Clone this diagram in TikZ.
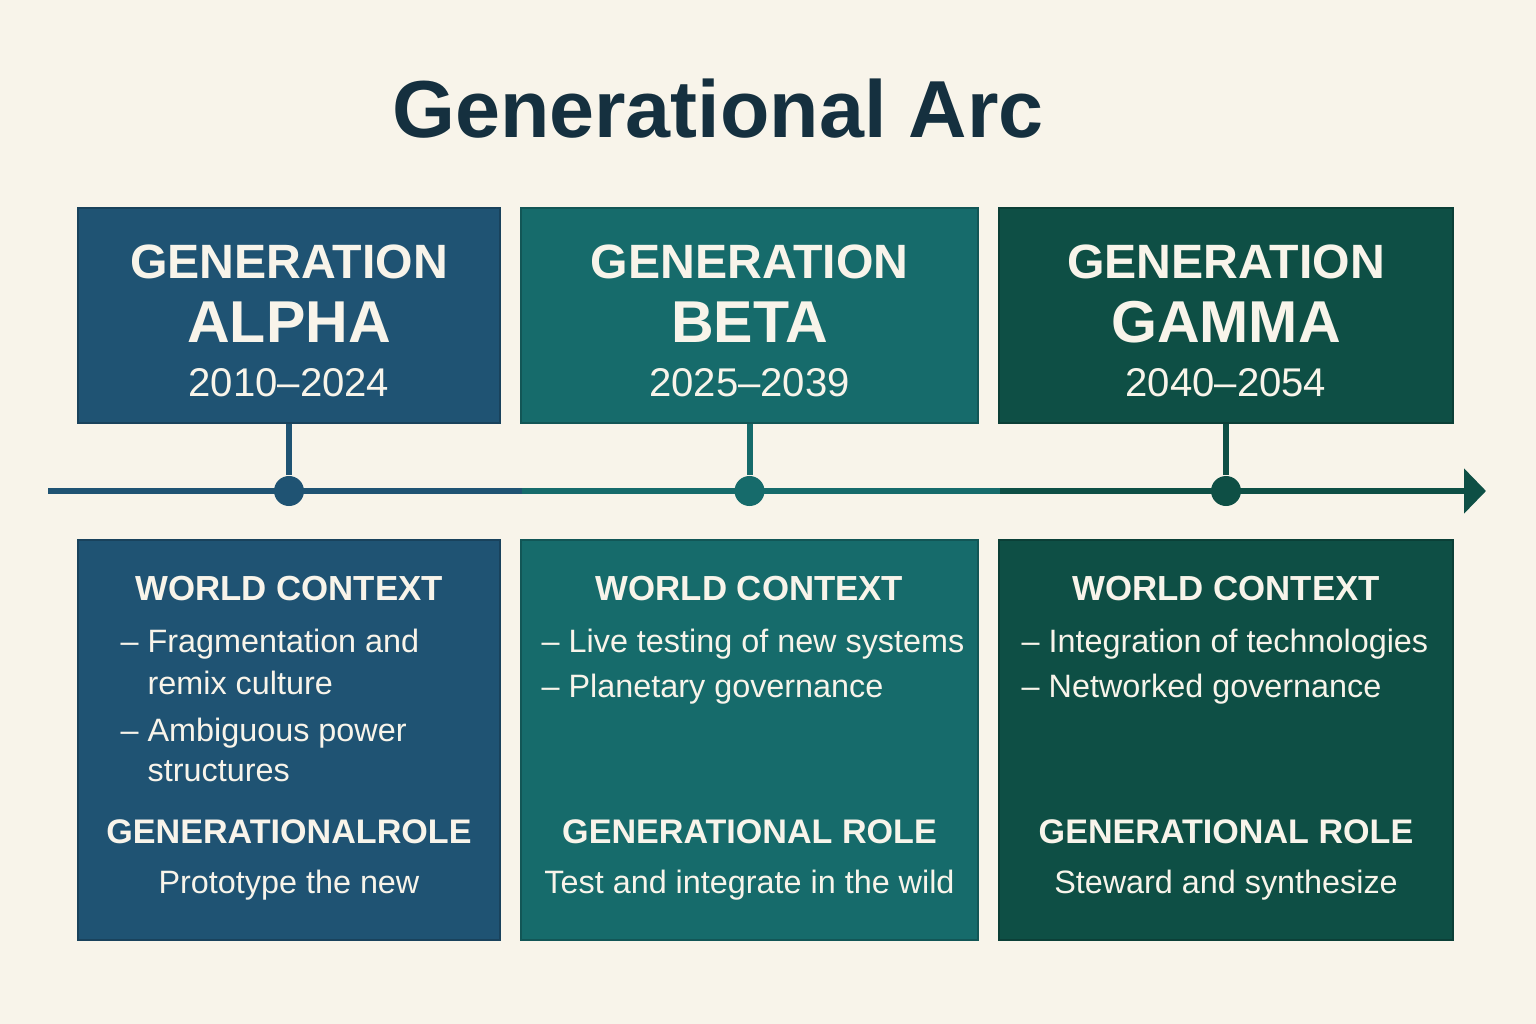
\documentclass[tikz,border=0pt]{standalone}
\usepackage{fontspec}
\setmainfont{Liberation Sans}
\usetikzlibrary{arrows.meta,positioning}
\definecolor{Paper}{HTML}{F8F4EA}
\definecolor{Ink}{HTML}{15303F}
\definecolor{Cream}{HTML}{F8F4EA}
\definecolor{AlphaBlue}{HTML}{1F5373}
\definecolor{BetaTeal}{HTML}{166B6B}
\definecolor{GammaGreen}{HTML}{0E4F45}
\tikzset{
  genbox/.style={draw=#1!80!black,line width=0.4pt,fill=#1,inner sep=0pt},
  gentag/.style={text=Cream,font=\fontsize{13.7}{16}\selectfont\bfseries,anchor=base},
  genname/.style={text=Cream,font=\fontsize{16.8}{20}\selectfont\bfseries,anchor=base},
  genyears/.style={text=Cream,font=\fontsize{11.4}{14}\selectfont,anchor=base},
  head/.style={text=Cream,font=\fontsize{9.9}{12}\selectfont\bfseries,anchor=base},
  rolehead/.style={head,font=\fontsize{9.7}{12}\selectfont\bfseries},
  body/.style={text=Cream,font=\fontsize{9.2}{12}\selectfont,anchor=base,inner sep=0pt},
  item/.style={body,anchor=base west},
  tline/.style={line width=0.06cm,draw=#1},
  milestone/.style={circle,fill=#1,inner sep=0pt,minimum size=0.3cm},
  title/.style={text=Ink,font=\fontsize{23}{28}\selectfont\bfseries,anchor=base}
}
\begin{document}
\begin{tikzpicture}[x=0.01cm,y=-0.01cm]
  \fill[Paper] (0,0) rectangle (1536,1024);
  \useasboundingbox (0,0) rectangle (1536,1024);
  \node[title] (ttl) at (718,137) {Generational Arc};
  % timeline
  \coordinate (t0) at (48,491);
  \coordinate (t1) at (522,491);
  \coordinate (t2) at (1000,491);
  \coordinate (t3) at (1486,491);
  \draw[tline=AlphaBlue] (t0) -- (t1);
  \draw[tline=BetaTeal] (t1) -- (t2);
  \draw[tline=GammaGreen,-{Triangle[length=0.22cm,width=0.44cm]}] (t2) -- (t3);
  % columns
  \foreach \g/\cx/\w/\col/\nm/\yrs/\role/\rtxt in {
      A/289/4.22/AlphaBlue/ALPHA/2010--2024/GENERATIONALROLE/Prototype the new,
      B/749.5/4.57/BetaTeal/BETA/2025--2039/GENERATIONAL ROLE/Test and integrate in the wild,
      G/1226/4.54/GammaGreen/GAMMA/2040--2054/GENERATIONAL ROLE/Steward and synthesize}{
    \node[genbox=\col,minimum width=\w cm,minimum height=2.15cm] (top\g) at (\cx,315.5) {};
    \node[genbox=\col,minimum width=\w cm,minimum height=4.0cm] (ctx\g) at (\cx,740) {};
    \node[milestone=\col] (dot\g) at (\cx,491) {};
    \draw[tline=\col] (top\g.south) -- (dot\g);
    \node[gentag] (tag\g) at (\cx,278) {GENERATION};
    \node[genname] (nm\g) at (\cx,342) {\nm};
    \node[genyears] (yr\g) at (\cx,396) {\yrs};
    \node[head] (wc\g) at (\cx,600) {WORLD CONTEXT};
    \node[rolehead] (rl\g) at (\cx,843) {\role};
    \node[body] (rt\g) at (\cx,893) {\rtxt};
  }
  % world context items
  \node[item] (a1) at (120,652) {– Fragmentation and};
  \node[item] (a2) at (147,694) {remix culture};
  \node[item] (a3) at (120,741) {– Ambiguous power};
  \node[item] (a4) at (147,781) {structures};
  \node[item] (b1) at (541,652) {– Live testing of new systems};
  \node[item] (b2) at (541,697) {– Planetary governance};
  \node[item] (g1) at (1021,652) {– Integration of technologies};
  \node[item] (g2) at (1021,697) {– Networked governance};
\end{tikzpicture}
\end{document}
